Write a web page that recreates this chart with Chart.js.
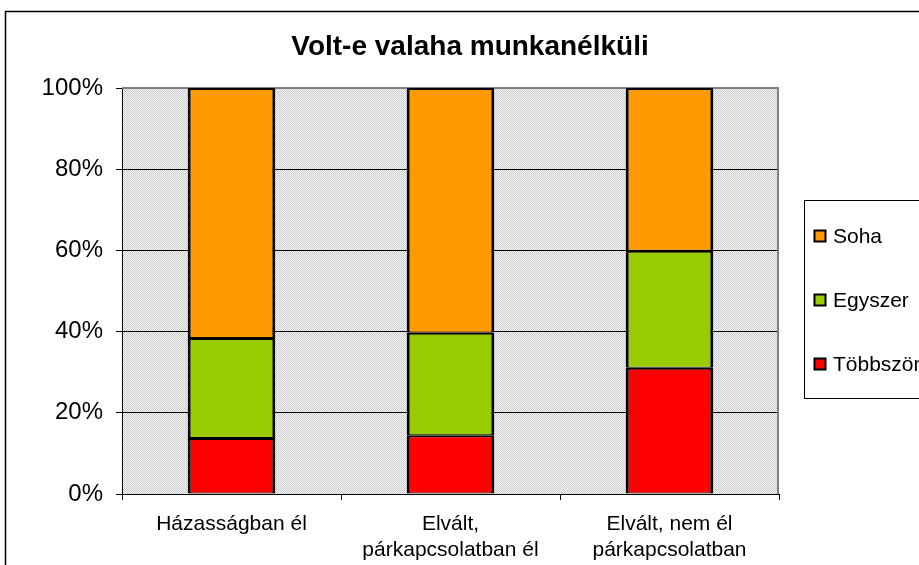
<!DOCTYPE html>
<html><head><meta charset="utf-8">
<script src="https://cdn.jsdelivr.net/npm/chart.js@4.4.1/dist/chart.umd.min.js"></script>
<style>html,body{margin:0;padding:0;background:#fff;overflow:hidden}canvas{display:block}</style>
</head><body>
<canvas id="c" width="919" height="565"></canvas>
<script>
const chartTitle = "Volt-e valaha munkanélküli";
const categories = [["Házasságban él"], ["Elvált,", "párkapcsolatban él"], ["Elvált, nem él", "párkapcsolatban"]];
const seriesNames = ["Többször", "Egyszer", "Soha"];
const seriesColors = ["#FF0000", "#99CC00", "#FF9900"];
const tobbszor = [13.8, 14.5, 31.1];
const egyszer = [24.6, 25.2, 28.8];
const soha = [61.6, 60.3, 40.1];
const yTickValues = [0, 20, 40, 60, 80, 100];

const FONT = '"Liberation Sans", Arial, sans-serif';

function makePattern(ctx) {
  const p = document.createElement('canvas');
  p.width = 2; p.height = 2;
  const c = p.getContext('2d');
  c.fillStyle = '#f4f4f4'; c.fillRect(0, 0, 2, 2);
  c.fillStyle = '#cccccc'; c.fillRect(0, 0, 1, 1); c.fillRect(1, 1, 1, 1);
  return ctx.createPattern(p, 'repeat');
}

const framePlugin = {
  id: 'frame',
  beforeDraw(chart) {
    const { ctx, chartArea: a } = chart;
    ctx.save();
    ctx.fillStyle = '#fff';
    ctx.fillRect(0, 0, chart.width, chart.height);
    ctx.strokeStyle = '#000'; ctx.lineWidth = 1.5;
    ctx.strokeRect(5.5, 11.5, chart.width + 20, chart.height + 20);
    ctx.fillStyle = makePattern(ctx);
    ctx.fillRect(a.left, a.top, a.right - a.left, a.bottom - a.top);
    ctx.fillStyle = '#000';
    ctx.font = 'bold 28px ' + FONT;
    ctx.textAlign = 'center'; ctx.textBaseline = 'middle';
    ctx.fillText(chartTitle, 470, 47);
    ctx.restore();
  },
  beforeDatasetsDraw(chart) {
    const { ctx, chartArea: a } = chart;
    ctx.save();
    ctx.strokeStyle = '#808080'; ctx.lineWidth = 2;
    ctx.beginPath();
    ctx.moveTo(a.left, a.top); ctx.lineTo(a.right - 1, a.top); ctx.lineTo(a.right - 1, a.bottom);
    ctx.stroke();
    ctx.restore();
  },
  afterDraw(chart) {
    const { ctx } = chart;
    ctx.save();
    ctx.fillStyle = '#fff';
    ctx.fillRect(804.5, 200.5, 200, 198);
    ctx.strokeStyle = '#000'; ctx.lineWidth = 1;
    ctx.strokeRect(804.5, 200.5, 200, 198);
    const ds = chart.data.datasets.slice().reverse();
    const ys = [236, 300, 364];
    ctx.font = '21px ' + FONT;
    ctx.textBaseline = 'middle'; ctx.textAlign = 'left';
    ds.forEach((d, i) => {
      const y = ys[i];
      ctx.fillStyle = d.backgroundColor;
      ctx.fillRect(814.5, y - 5.5, 11, 11);
      ctx.lineWidth = 2; ctx.strokeStyle = '#000';
      ctx.strokeRect(814.5, y - 5.5, 11, 11);
      ctx.fillStyle = '#000';
      ctx.fillText(d.label, 833, y + 1);
    });
    ctx.restore();
  }
};

const seriesValues = [tobbszor, egyszer, soha];
const datasets = seriesNames.map((n, i) => ({
  label: n,
  data: seriesValues[i],
  backgroundColor: seriesColors[i],
  borderColor: '#000',
  borderWidth: { top: 2, bottom: 1, left: 3, right: 3 },
  borderSkipped: false,
  inflateAmount: 0,
  categoryPercentage: 1,
  barPercentage: 0.4
}));

new Chart(document.getElementById('c'), {
  type: 'bar',
  data: { labels: categories, datasets },
  plugins: [framePlugin],
  options: {
    responsive: false,
    animation: false,
    events: [],
    layout: { padding: { top: 88, right: 140, bottom: 0, left: 0 } },
    plugins: { legend: { display: false }, title: { display: false }, tooltip: { enabled: false } },
    scales: {
      x: {
        stacked: true,
        afterFit(s) { s.height = 71; },
        grid: { drawOnChartArea: false, drawTicks: true, tickLength: 6, color: '#000', offset: true },
        border: { display: true, color: '#000', width: 1 },
        ticks: { color: '#000', padding: 11, font: { family: FONT, size: 21, lineHeight: 1.25 }, maxRotation: 0, autoSkip: false }
      },
      y: {
        stacked: true,
        min: 0, max: 100,
        afterFit(s) { s.width = 122; },
        afterBuildTicks(s) { s.ticks = yTickValues.map(v => ({ value: v })); },
        grid: { color: '#000', lineWidth: 1, tickLength: 6, drawTicks: true },
        border: { display: true, color: '#000', width: 1 },
        ticks: { color: '#000', padding: 13, font: { family: FONT, size: 24 }, callback: v => v + '%' }
      }
    }
  }
});
</script>
</body></html>
